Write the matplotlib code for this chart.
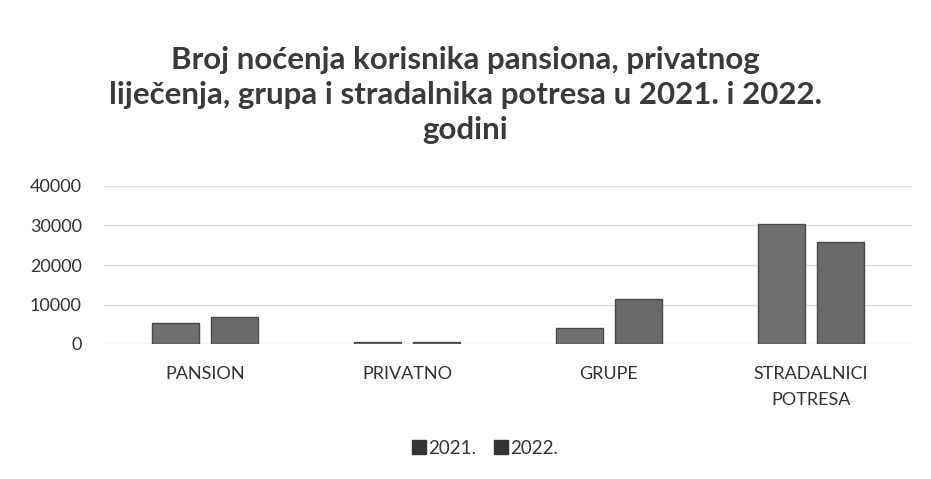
import matplotlib.pyplot as plt
import numpy as np
from matplotlib.patches import Patch

# data
kategorije = ['PANSION', 'PRIVATNO', 'GRUPE', 'STRADALNICI\nPOTRESA']
god_2021 = [5300, 500, 4100, 30400]
god_2022 = [6800, 600, 11400, 25900]
yticks = [0, 10000, 20000, 30000, 40000]
legend_labels = ['2021.', '2022.']

plt.rcParams['font.family'] = ['Lato', 'DejaVu Sans']

fig = plt.figure(figsize=(9.31, 4.79), dpi=100)
ax = fig.add_axes([104/931, 1 - 344/479, 808/931, 158/479])

x = np.arange(len(kategorije))
w = 0.235
gap = 0.055
ax.bar(x - (w + gap)/2, god_2021, width=w, color='#6f6f6f', edgecolor='#4a4a4a', linewidth=1)
ax.bar(x + (w + gap)/2, god_2022, width=w, color='#6a6a6a', edgecolor='#4a4a4a', linewidth=1)

ax.set_xlim(-0.5, len(kategorije) - 0.5)
ax.set_ylim(0, 40000)
ax.set_yticks(yticks)
ax.set_yticklabels([str(v) for v in yticks], fontsize=13, color='#333333')
ax.set_xticks(x)
ax.set_xticklabels(kategorije, fontsize=13, color='#333333', linespacing=1.75)
ax.tick_params(axis='y', length=0, pad=16)
ax.tick_params(axis='x', length=0, pad=16)
ax.grid(axis='y', color='#dcdcdc', linewidth=1)
ax.set_axisbelow(True)
for s in ax.spines.values():
    s.set_visible(False)

fig.text(0.5, 1 - 95/479, 'Broj noćenja korisnika pansiona, privatnog\nliječenja, grupa i stradalnika potresa u 2021. i 2022.\ngodini',
         ha='center', va='center', fontsize=22.5, fontweight='bold', color='#3a3a3a', linespacing=1.32)

handles = [Patch(facecolor='#333333', edgecolor='#333333'), Patch(facecolor='#333333', edgecolor='#333333')]
fig.legend(handles, legend_labels, loc='center', bbox_to_anchor=(485/931, 1 - 448/479), ncol=2,
           frameon=False, fontsize=13.5, handlelength=0.75, handleheight=0.75, handletextpad=0.1,
           columnspacing=1.0, labelcolor='#333333')

fig.savefig('out.png', dpi=100)
